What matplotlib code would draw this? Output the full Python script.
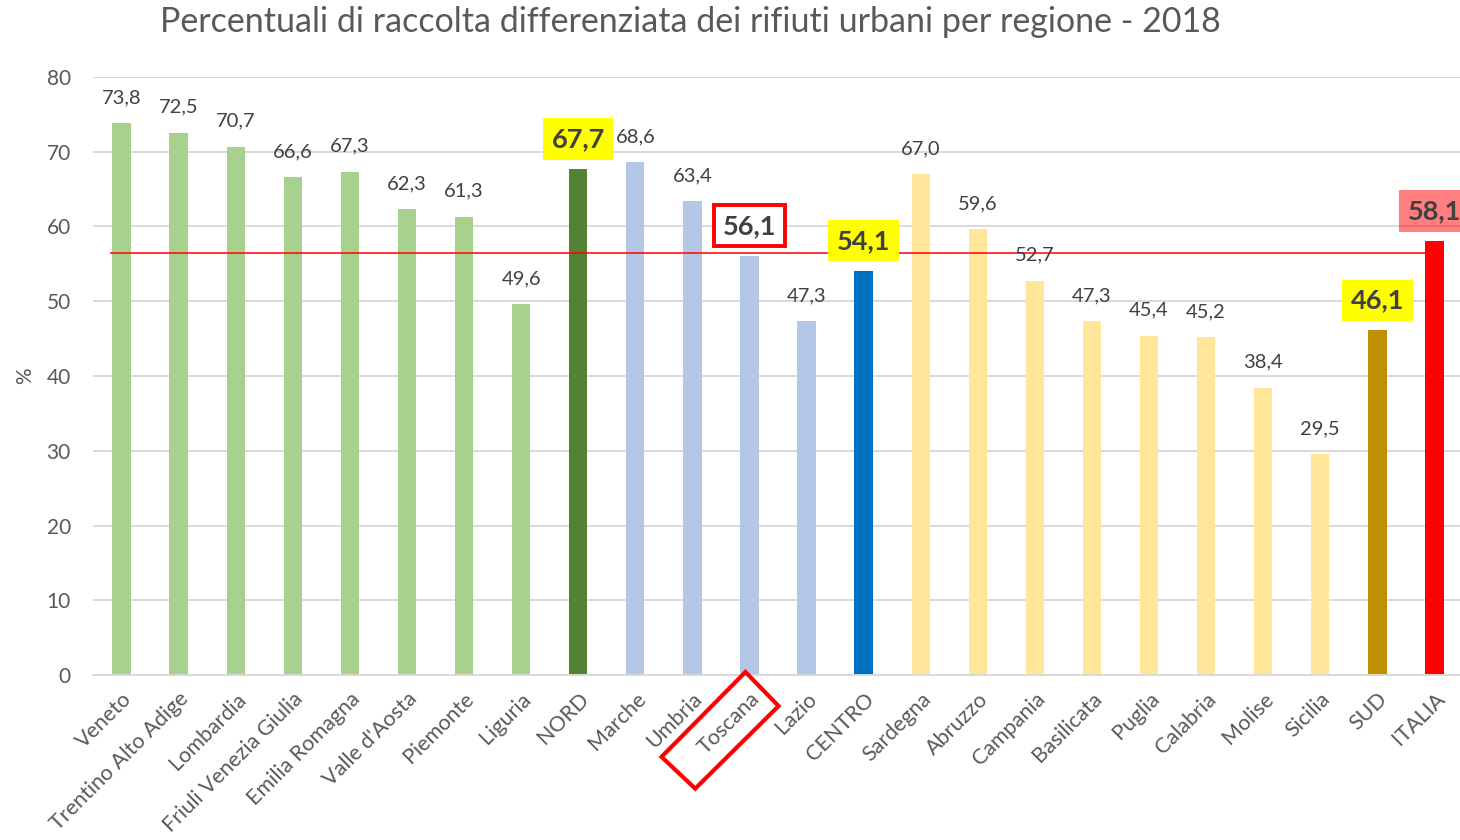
import matplotlib
matplotlib.use("Agg")
import matplotlib.pyplot as plt
from matplotlib.patches import Polygon

plt.rcParams['font.family'] = ['Lato', 'DejaVu Sans']

categories = ["Veneto", "Trentino Alto Adige", "Lombardia", "Friuli Venezia Giulia",
              "Emilia Romagna", "Valle d'Aosta", "Piemonte", "Liguria", "NORD",
              "Marche", "Umbria", "Toscana", "Lazio", "CENTRO",
              "Sardegna", "Abruzzo", "Campania", "Basilicata", "Puglia", "Calabria",
              "Molise", "Sicilia", "SUD", "ITALIA"]
values = [73.8, 72.5, 70.7, 66.6, 67.3, 62.3, 61.3, 49.6, 67.7,
          68.6, 63.4, 56.1, 47.3, 54.1,
          67.0, 59.6, 52.7, 47.3, 45.4, 45.2, 38.4, 29.5, 46.1, 58.1]
colors = (["#A9D18E"] * 8 + ["#548235"] + ["#B4C7E7"] * 4 + ["#0070C0"]
          + ["#FFE699"] * 8 + ["#BF9000"] + ["#FF0000"])
# label highlight style per category
highlight = {"NORD": "yellow", "CENTRO": "yellow", "SUD": "yellow",
             "Toscana": "redbox", "ITALIA": "salmon"}
reference_line = 56.4
title = "Percentuali di raccolta differenziata dei rifiuti urbani per regione - 2018"

fig = plt.figure(figsize=(14.6, 8.4), dpi=100)
ax = fig.add_axes([93 / 1460, 165 / 840, 1370 / 1460, 598 / 840])

x = list(range(len(categories)))
ax.bar(x, values, width=0.32, color=colors, zorder=2)
ax.set_xlim(-0.5, len(categories) - 0.5)
ax.set_ylim(0, 80)
ax.set_yticks(range(0, 81, 10))
ax.grid(axis='y', color='#D9D9D9', linewidth=1.4, zorder=0)
ax.set_axisbelow(True)
for s in ['top', 'right', 'left']:
    ax.spines[s].set_visible(False)
ax.spines['bottom'].set_color('#D9D9D9')
ax.spines['bottom'].set_linewidth(1.4)
ax.tick_params(axis='both', length=0, colors='#595959')
ax.tick_params(axis='y', pad=16, labelsize=15)
ax.set_xticks(x)
ax.set_xticklabels(categories, rotation=45, ha='right', va='top',
                   rotation_mode='anchor')
ax.tick_params(axis='x', pad=10, labelsize=15.5)
ax.set_ylabel('%', color='#595959', fontsize=15, labelpad=8)

ax.hlines(reference_line, -0.21, len(categories) - 1, color='#FF0000',
          linewidth=1.1, zorder=3)

for xi, v, c in zip(x, values, categories):
    label = f"{v:.1f}".replace('.', ',')
    style = highlight.get(c)
    if style is None:
        ax.annotate(label, (xi, v), xytext=(0, 18.5), textcoords='offset points',
                    ha='center', va='center', fontsize=14.5, color='#404040',
                    annotation_clip=False)
    else:
        if style == 'yellow':
            bbox = dict(boxstyle='square,pad=0.32', facecolor='#FFFF00', edgecolor='none')
        elif style == 'redbox':
            bbox = dict(boxstyle='square,pad=0.32', facecolor='white',
                        edgecolor='#FF0000', linewidth=2.8)
        else:
            bbox = dict(boxstyle='square,pad=0.32', facecolor='#FF0000', alpha=0.5,
                        edgecolor='none')
        ax.annotate(label, (xi, v), xytext=(0, 21.5), textcoords='offset points',
                    ha='center', va='center', fontsize=19.5, fontweight='bold',
                    color='#404040', bbox=bbox, annotation_clip=False, zorder=4)

# red diamond around the Toscana tick label
ti = categories.index("Toscana")
diamond = Polygon([(ti - 0.07, 0.4), (ti + 0.51, -4.15), (ti - 0.95, -15.2),
                   (ti - 1.54, -10.95)], closed=True, fill=False,
                  edgecolor='#FF0000', linewidth=3, clip_on=False, zorder=5)
ax.add_patch(diamond)

fig.text(690 / 1460, 1 - 22 / 840, title, ha='center', va='center',
         fontsize=24.5, color='#595959')

fig.savefig('out.png', dpi=100)
